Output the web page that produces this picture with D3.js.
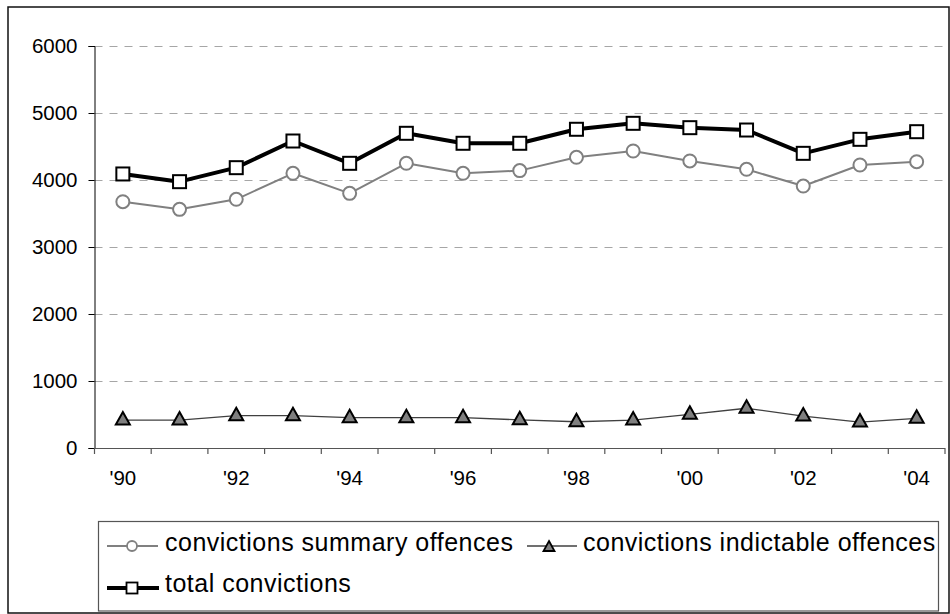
<!DOCTYPE html>
<html>
<head>
<meta charset="utf-8">
<script src="https://cdn.jsdelivr.net/npm/d3@7"></script>
<style>
  html, body { margin: 0; padding: 0; background: #fff; }
  svg { display: block; font-family: "Liberation Sans", Arial, sans-serif; }
</style>
</head>
<body>
<svg id="chart" width="950" height="614"></svg>
<script>
// Convictions per year, 1990–2004
const years = ["'90","'91","'92","'93","'94","'95","'96","'97","'98","'99","'00","'01","'02","'03","'04"];
const xTickLabels = ["'90","'92","'94","'96","'98","'00","'02","'04"];
const yTicks = [0, 1000, 2000, 3000, 4000, 5000, 6000];

const summaryOffences    = [3676, 3562, 3712, 4100, 3801, 4249, 4100, 4140, 4339, 4433, 4284, 4160, 3910, 4224, 4273];
const indictableOffences = [ 417,  417,  482,  482,  452,  452,  452,  420,  392,  417,  503,  593,  477,  387,  443];
const totalConvictions   = [4090, 3975, 4184, 4582, 4249, 4697, 4548, 4548, 4757, 4846, 4781, 4746, 4398, 4607, 4721];

const svg = d3.select("#chart");

// outer frame
svg.append("rect")
  .attr("x", 8).attr("y", 7).attr("width", 941).attr("height", 606)
  .attr("fill", "none").attr("stroke", "#111").attr("stroke-width", 1.5);

const plot = { left: 94.5, right: 945, top: 46, bottom: 448 };

const x = d3.scaleBand().domain(years).range([plot.left, plot.right]).padding(0);
const cx = d => x(d) + x.bandwidth() / 2;
const y = d3.scaleLinear().domain([0, 6000]).range([plot.bottom, plot.top]);

// dashed horizontal gridlines
svg.append("g")
  .selectAll("line")
  .data(yTicks.filter(v => v > 0))
  .join("line")
  .attr("x1", plot.left).attr("x2", plot.right)
  .attr("y1", d => Math.round(y(d)) + 0.5).attr("y2", d => Math.round(y(d)) + 0.5)
  .attr("stroke", "#a6a6a6").attr("stroke-width", 1)
  .attr("stroke-dasharray", "8,7");

// y axis
const yAxis = svg.append("g")
  .attr("transform", `translate(${plot.left},0)`)
  .call(d3.axisLeft(y).tickValues(yTicks).tickSize(6).tickPadding(11).tickFormat(d3.format("d")));
yAxis.select(".domain").attr("stroke", "#000");
yAxis.selectAll(".tick line").attr("stroke", "#000");
yAxis.selectAll("text").attr("font-size", 20.5).attr("fill", "#000")
  .attr("font-family", "Liberation Sans, Arial, sans-serif");

// x axis: ticks on category boundaries, labels every second year
const boundaries = d3.range(years.length + 1).map(i => plot.left + i * x.bandwidth());
const xg = svg.append("g");
xg.append("line")
  .attr("x1", plot.left).attr("x2", plot.right)
  .attr("y1", plot.bottom + 0.5).attr("y2", plot.bottom + 0.5)
  .attr("stroke", "#555").attr("stroke-width", 1.2);
xg.selectAll("line.tk").data(boundaries).join("line").attr("class", "tk")
  .attr("x1", d => d).attr("x2", d => d)
  .attr("y1", plot.bottom).attr("y2", plot.bottom + 6)
  .attr("stroke", "#555").attr("stroke-width", 1.2);
xg.selectAll("text").data(xTickLabels).join("text")
  .attr("x", d => cx(d)).attr("y", plot.bottom + 37)
  .attr("text-anchor", "middle").attr("font-size", 20.5).attr("fill", "#000")
  .text(d => d);

// series
const triangle = "M0,-8L7,4.5L-7,4.5Z";
const smallTriangle = "M0,-6L5.5,4L-5.5,4Z";

function drawLine(values, color, width) {
  const line = d3.line().x((d, i) => cx(years[i])).y(d => y(d));
  svg.append("path").datum(values)
    .attr("d", line).attr("fill", "none")
    .attr("stroke", color).attr("stroke-width", width)
    .attr("stroke-linejoin", "round");
}

// summary offences: gray line, open circles
drawLine(summaryOffences, "#808080", 2);
svg.append("g").selectAll("circle").data(summaryOffences).join("circle")
  .attr("cx", (d, i) => cx(years[i])).attr("cy", d => y(d)).attr("r", 6.5)
  .attr("fill", "#fff").attr("stroke", "#808080").attr("stroke-width", 2);

// indictable offences: thin dark line, gray triangles
drawLine(indictableOffences, "#404040", 1.3);
svg.append("g").selectAll("path").data(indictableOffences).join("path")
  .attr("d", triangle)
  .attr("transform", (d, i) => `translate(${cx(years[i])},${y(d)})`)
  .attr("fill", "#7f7f7f").attr("stroke", "#000").attr("stroke-width", 2)
  .attr("stroke-linejoin", "miter");

// total convictions: heavy black line, open squares
drawLine(totalConvictions, "#000", 4);
svg.append("g").selectAll("rect").data(totalConvictions).join("rect")
  .attr("x", (d, i) => cx(years[i]) - 6.5).attr("y", d => y(d) - 6.5)
  .attr("width", 13).attr("height", 13)
  .attr("fill", "#fff").attr("stroke", "#000").attr("stroke-width", 2);

// legend
const lg = svg.append("g");
lg.append("rect")
  .attr("x", 98.5).attr("y", 521.5).attr("width", 840).attr("height", 89.5)
  .attr("fill", "#fff").attr("stroke", "#555").attr("stroke-width", 1.2);

const legendText = (xPos, yPos, label) =>
  lg.append("text").attr("x", xPos).attr("y", yPos)
    .attr("font-size", 25).attr("letter-spacing", 0.5).attr("fill", "#000")
    .text(label);

// row 1 — summary offences
lg.append("line").attr("x1", 107).attr("x2", 158).attr("y1", 546).attr("y2", 546)
  .attr("stroke", "#808080").attr("stroke-width", 2);
lg.append("circle").attr("cx", 132).attr("cy", 546).attr("r", 5)
  .attr("fill", "#fff").attr("stroke", "#808080").attr("stroke-width", 1.8);
legendText(165, 551, "convictions summary offences");

// row 1 — indictable offences
lg.append("line").attr("x1", 527).attr("x2", 577).attr("y1", 546).attr("y2", 546)
  .attr("stroke", "#404040").attr("stroke-width", 1.3);
lg.append("path").attr("d", smallTriangle).attr("transform", "translate(549,547)")
  .attr("fill", "#7f7f7f").attr("stroke", "#000").attr("stroke-width", 1.8);
legendText(583, 551, "convictions indictable offences");

// row 2 — total
lg.append("line").attr("x1", 107).attr("x2", 159).attr("y1", 588).attr("y2", 588)
  .attr("stroke", "#000").attr("stroke-width", 4);
lg.append("rect").attr("x", 126.5).attr("y", 582.5).attr("width", 11).attr("height", 11)
  .attr("fill", "#fff").attr("stroke", "#000").attr("stroke-width", 1.8);
legendText(165, 592, "total convictions");
</script>
</body>
</html>
